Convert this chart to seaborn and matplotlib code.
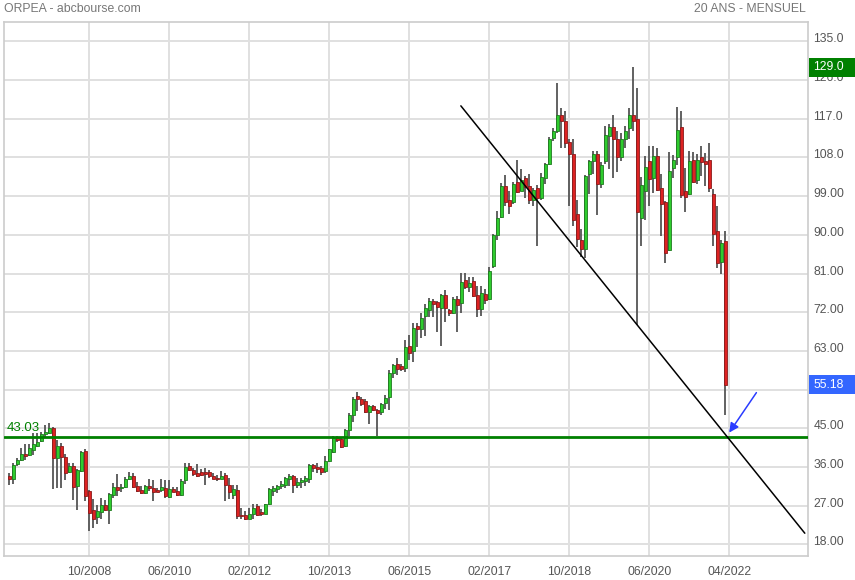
import matplotlib
matplotlib.use("Agg")
import matplotlib.pyplot as plt
import matplotlib.transforms as mtransforms
from matplotlib.patches import Rectangle
import numpy as np
import pandas as pd
import seaborn as sns

# ---- data: monthly candles, 02/2007 .. 01/2022 (index 0..179) ----
opens = [33.9, 33.3, 36.6, 37.7, 39.1, 38.8, 39.9, 40.9, 42.0, 43.6,
         44.0, 45.0, 38.0, 40.9, 38.3, 34.9, 36.3, 31.5, 35.0, 39.8,
         30.5, 25.9, 24.3, 25.6, 27.2, 25.9, 29.6, 31.4, 31.0, 31.3,
         33.1, 33.9, 31.6, 30.7, 29.9, 31.5, 31.0, 30.7, 30.7, 31.1,
         29.0, 30.9, 30.5, 29.5, 32.9, 36.3, 35.3, 34.7, 34.8, 34.8,
         34.8, 33.8, 33.5, 33.2, 34.2, 31.9, 29.6, 30.7, 24.8, 24.8,
         24.0, 25.0, 26.9, 25.5, 25.1, 27.5, 30.5, 30.8, 31.5, 31.8,
         33.3, 34.0, 31.7, 32.5, 32.8, 33.3, 36.4, 36.1, 35.8, 35.1,
         37.3, 39.5, 42.8, 42.5, 40.8, 44.6, 48.1, 52.6, 51.9, 51.3,
         48.8, 50.2, 49.2, 48.7, 50.9, 52.2, 57.9, 60.0, 59.5, 59.0,
         64.2, 63.0, 68.7, 68.0, 71.1, 72.6, 74.6, 74.4, 73.0, 76.0,
         72.5, 71.9, 75.1, 74.2, 79.4, 77.8, 79.2, 76.1, 72.8, 76.3,
         75.1, 82.7, 90.0, 94.1, 101.3, 98.0, 97.6, 102.3, 100.3, 103.2,
         101.3, 98.2, 100.8, 98.5, 103.2, 106.4, 112.5, 114.2, 117.8, 116.5,
         111.5, 108.9, 94.8, 88.8, 86.8, 104.1, 107.2, 108.9, 101.9, 107.2,
         112.9, 115.0, 112.2, 108.0, 112.4, 114.8, 117.8, 117.0, 93.9, 100.1,
         107.2, 103.2, 108.3, 100.8, 97.7, 86.4, 105.5, 108.2, 115.0, 100.2,
         99.5, 107.4, 102.7, 108.1, 107.2, 107.4, 99.5, 90.8, 83.7, 88.5]
highs = [34.6, 37.0, 38.1, 40.4, 41.4, 41.4, 43.8, 43.8, 44.2, 45.8,
         46.2, 45.4, 42.3, 41.5, 39.1, 36.9, 36.9, 35.5, 39.8, 40.3,
         30.6, 28.6, 27.2, 28.8, 28.4, 29.9, 32.3, 34.3, 32.0, 33.6,
         34.9, 34.6, 32.6, 31.5, 31.8, 33.2, 32.9, 31.1, 33.2, 32.9,
         33.0, 31.4, 31.3, 33.2, 36.9, 36.9, 35.8, 36.7, 35.5, 35.8,
         35.4, 34.5, 34.2, 35.0, 34.6, 33.5, 31.7, 31.7, 26.5, 25.8,
         26.5, 27.3, 27.5, 26.2, 27.5, 31.2, 31.6, 31.7, 32.8, 33.7,
         34.3, 34.1, 33.4, 33.5, 33.8, 36.6, 36.6, 36.9, 36.2, 38.5,
         40.3, 43.1, 43.1, 42.7, 44.8, 48.5, 52.3, 53.4, 52.2, 51.7,
         50.4, 50.4, 49.6, 50.8, 52.7, 58.5, 60.0, 61.4, 59.9, 65.5,
         66.8, 69.4, 69.4, 71.9, 74.0, 75.4, 75.0, 74.6, 76.2, 77.1,
         72.7, 75.5, 75.8, 81.2, 81.2, 80.1, 80.3, 78.2, 78.2, 77.5,
         82.6, 90.2, 95.5, 102.1, 104.0, 100.2, 102.3, 107.3, 105.2, 103.6,
         104.2, 100.9, 101.7, 104.4, 106.8, 112.7, 114.8, 125.4, 119.6, 118.8,
         112.2, 112.2, 98.1, 91.4, 104.0, 107.5, 109.6, 109.5, 106.9, 115.2,
         115.8, 117.9, 114.1, 113.7, 115.2, 119.5, 129.0, 124.1, 103.5, 108.3,
         110.6, 110.6, 110.1, 104.1, 97.9, 109.3, 108.5, 119.8, 118.8, 105.5,
         109.6, 109.3, 108.7, 110.6, 109.1, 111.4, 100.6, 96.6, 88.9, 90.8]
lows = [31.8, 32.0, 36.3, 37.5, 37.7, 38.6, 38.9, 40.6, 41.9, 42.7,
        43.7, 30.9, 31.0, 31.0, 33.0, 34.7, 28.4, 26.1, 34.8, 28.2,
        21.1, 21.7, 22.8, 23.8, 25.7, 22.8, 28.8, 29.3, 30.1, 31.1,
        33.0, 31.1, 30.3, 29.7, 29.8, 30.5, 28.2, 30.1, 30.3, 28.9,
        28.9, 30.1, 29.3, 29.2, 32.0, 35.0, 33.8, 33.6, 33.8, 31.9,
        33.5, 33.1, 32.7, 33.1, 28.1, 28.6, 28.6, 24.0, 24.0, 23.7,
        23.9, 24.0, 24.5, 24.6, 25.0, 27.1, 29.2, 30.0, 30.8, 31.2,
        31.5, 30.0, 31.2, 31.2, 31.5, 32.3, 34.9, 34.5, 34.2, 34.6,
        37.2, 39.2, 41.9, 40.4, 40.6, 43.1, 46.5, 49.0, 50.3, 48.6,
        46.0, 49.0, 43.2, 48.1, 49.6, 49.2, 56.7, 57.3, 58.3, 58.1,
        60.8, 60.5, 63.8, 66.0, 66.5, 70.8, 70.9, 67.5, 64.1, 69.8,
        71.2, 71.5, 67.3, 71.9, 77.4, 76.7, 75.5, 70.8, 71.1, 74.0,
        74.8, 82.3, 88.8, 94.0, 96.7, 94.8, 97.1, 99.8, 100.2, 98.6,
        97.1, 96.7, 87.5, 98.2, 101.8, 106.3, 111.9, 113.7, 110.2, 110.1,
        96.8, 92.0, 87.2, 84.8, 84.5, 99.5, 104.1, 94.7, 101.0, 106.4,
        105.2, 103.3, 104.7, 107.2, 110.1, 112.2, 114.1, 69.0, 87.5, 93.5,
        96.8, 99.8, 100.2, 89.7, 83.5, 86.2, 103.2, 106.2, 98.5, 95.2,
        99.3, 102.0, 101.8, 103.7, 101.4, 100.0, 87.4, 82.3, 81.0, 48.1]
closes = [33.2, 36.4, 37.7, 39.1, 38.6, 40.4, 41.3, 41.8, 43.6, 44.2,
          45.0, 38.0, 40.9, 38.3, 34.7, 36.3, 31.3, 35.2, 39.6, 29.3,
          25.3, 23.8, 25.8, 27.2, 25.9, 29.7, 31.3, 30.7, 31.4, 33.3,
          33.9, 31.3, 30.5, 29.9, 31.6, 31.0, 30.1, 30.3, 31.4, 29.2,
          30.9, 30.3, 29.6, 32.8, 36.1, 35.3, 34.4, 34.0, 34.2, 34.3,
          33.8, 33.3, 33.2, 33.9, 31.8, 30.1, 30.8, 24.6, 24.6, 23.9,
          25.1, 26.5, 24.9, 25.1, 27.4, 30.8, 31.2, 31.6, 32.0, 33.5,
          34.0, 31.7, 32.5, 33.0, 33.5, 36.4, 35.8, 35.5, 34.8, 37.5,
          40.1, 42.7, 42.2, 40.6, 44.6, 48.1, 51.8, 51.9, 50.6, 48.8,
          50.2, 49.2, 48.5, 50.6, 52.1, 57.9, 59.7, 58.8, 58.8, 63.8,
          62.4, 68.4, 68.2, 70.7, 72.9, 74.6, 73.8, 73.1, 76.0, 73.0,
          71.8, 75.1, 73.6, 79.0, 77.8, 78.8, 75.8, 72.7, 76.5, 74.9,
          81.6, 90.0, 94.0, 101.3, 97.6, 96.8, 101.8, 100.0, 102.8, 101.1,
          98.2, 100.5, 98.6, 103.4, 106.5, 112.4, 114.2, 117.8, 116.5, 111.4,
          108.8, 93.5, 89.1, 86.8, 103.7, 107.2, 108.7, 101.9, 106.2, 113.3,
          115.0, 112.2, 108.0, 112.4, 114.2, 117.8, 116.4, 95.2, 101.6, 105.8,
          102.9, 108.3, 100.5, 97.2, 85.8, 104.8, 107.5, 114.3, 99.3, 98.7,
          107.2, 102.4, 107.4, 107.0, 106.5, 100.8, 90.1, 83.5, 88.2, 55.18]

tick_pos = [20, 40, 60, 80, 100, 120, 140, 160, 180]
tick_labels = ["10/2008", "06/2010", "02/2012", "10/2013", "06/2015",
               "02/2017", "10/2018", "06/2020", "04/2022"]
y_ticks = [18, 27, 36, 45, 54, 63, 72, 81, 90, 99, 108, 117, 126, 135]

support_level = 43.03
last_price = 55.18
max_price = 129.0
trend_x = [112.9, 198.9]
trend_y = [120.0, 20.6]
arrow_tail = (186.8, 53.3)
arrow_head = (180.0, 44.0)

# ---- style ----
sns.set_theme(style="white")
plt.rcParams['font.family'] = ['Liberation Sans', 'DejaVu Sans']

W, H = 855, 580
fig = plt.figure(figsize=(W / 100, H / 100), dpi=100)
fig.patch.set_facecolor("white")
ax = fig.add_axes([4 / W, 24 / H, 804 / W, 534 / H])
ax.set_facecolor("white")

df = pd.DataFrame({"idx": np.arange(len(opens)), "open": opens, "high": highs,
                   "low": lows, "close": closes})
df["up"] = df["close"] >= df["open"]
df["bottom"] = df[["open", "close"]].min(axis=1)
df["height"] = (df["close"] - df["open"]).abs().clip(lower=0.3)

ax.set_xlim(-1.33, 199.7)
ax.set_ylim(15.3, 139.5)

# grid / ticks
ax.set_yticks(y_ticks)
# the 54.00 label is fully hidden behind the last-price box in the reference
ax.set_yticklabels(["" if v == 54 else (f"{v:.1f}" if v >= 100 else f"{v:.2f}")
                    for v in y_ticks])
ax.set_xticks(tick_pos)
ax.set_xticklabels(tick_labels)
ax.grid(True, color="#e0e0e0", lw=1.4, zorder=0)
ax.set_axisbelow(True)
ax.yaxis.tick_right()
ax.tick_params(axis="y", length=0, pad=4, labelsize=8.7, labelcolor="#555555")
ax.tick_params(axis="x", length=0, pad=7, labelsize=8.7, labelcolor="#555555")
shift_up = mtransforms.ScaledTranslation(0, 3.5 / 100, fig.dpi_scale_trans)
for lab in ax.get_yticklabels():
    lab.set_transform(lab.get_transform() + shift_up)
for s in ax.spines.values():
    s.set_color("#cccccc")
    s.set_linewidth(1.2)

# candles
ax.vlines(df["idx"], df["low"], df["high"], color="#555555", lw=1.3, zorder=3)
up = df[df["up"]]
dn = df[~df["up"]]
ax.bar(up["idx"], up["height"], bottom=up["bottom"], width=0.75,
       color="#2ecc2e", edgecolor="#1f7a1f", lw=0.6, zorder=4)
ax.bar(dn["idx"], dn["height"], bottom=dn["bottom"], width=0.75,
       color="#dd2222", edgecolor="#8a1a1a", lw=0.6, zorder=4)

# support line
ax.axhline(support_level, color="#008000", lw=2.0, zorder=5)
ax.text(-0.6, support_level + 0.6, f"{support_level:.2f}", color="#008000",
        fontsize=9.5, va="bottom", ha="left", zorder=2)

# trend line
sns.lineplot(x=trend_x, y=trend_y, color="black", lw=1.1, ax=ax, zorder=6)

# arrow
ax.annotate("", xy=arrow_head, xytext=arrow_tail,
            arrowprops=dict(arrowstyle="-|>", color="#2a3cff", lw=1.1,
                            mutation_scale=14, shrinkA=0, shrinkB=0), zorder=7)

# price boxes on the right
trans = mtransforms.blended_transform_factory(fig.transFigure, ax.transData)
box_h = 19 / 4.3
for val, col in [(max_price, "#008000"), (last_price, "#3366ff")]:
    r = Rectangle((809 / W, val - box_h / 2), 46 / W, box_h, transform=trans,
                  facecolor=col, edgecolor="none", clip_on=False, zorder=20)
    fig.add_artist(r)
    fig.text(813 / W, val, f"{val:.1f}" if val >= 100 else f"{val:.2f}",
             transform=trans, color="white", fontsize=8.7, va="center",
             ha="left", zorder=21)

# header texts
fig.text(4 / W, 1 - 9 / H, "ORPEA - abcbourse.com", color="#777777",
         fontsize=8.8, ha="left", va="center")
fig.text(806 / W, 1 - 9 / H, "20 ANS - MENSUEL", color="#777777",
         fontsize=8.8, ha="right", va="center")

fig.savefig("out.png", dpi=100, facecolor="white")
